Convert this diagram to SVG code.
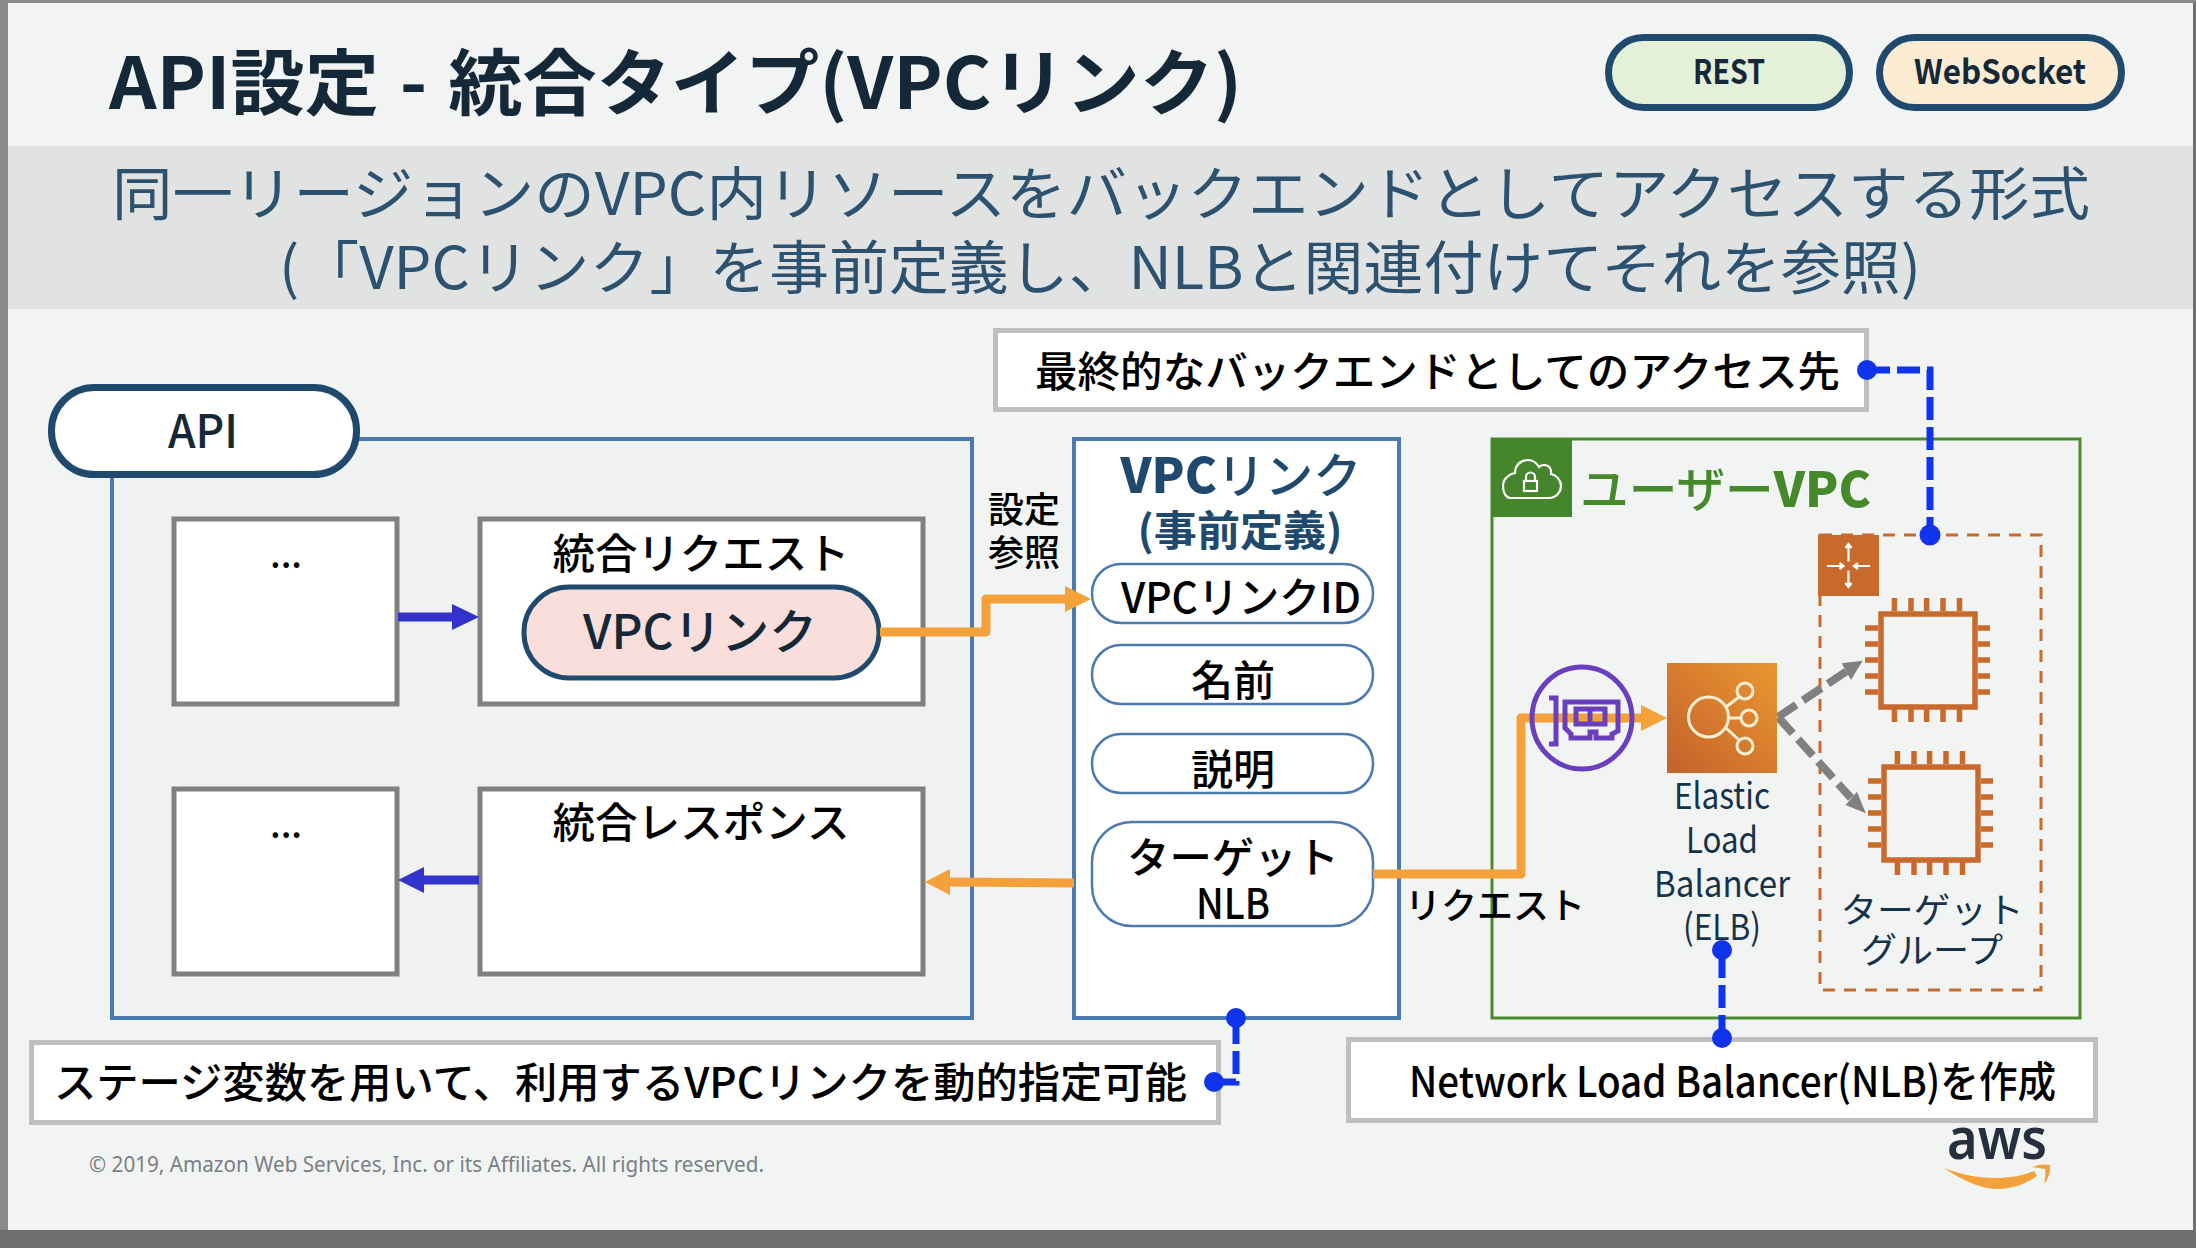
<svg xmlns="http://www.w3.org/2000/svg" width="2196" height="1248" viewBox="0 0 2196 1248">
<style>
text{font-family:"Noto Sans CJK JP","Noto Sans",sans-serif;fill:#000;font-weight:500;text-spacing-trim:space-all}
.m{text-anchor:middle}
.b{font-weight:700}
.sub{font-weight:400;fill:#2d5270}
.box{fill:#fff;stroke:#808080;stroke-width:5}
.note{fill:#fff;stroke:#bfbfbf;stroke-width:5}
.cont{stroke:#4a7ab0;stroke-width:4}
.pill{fill:#fff;stroke:#4a7ab0;stroke-width:2.5}
.dk{stroke:#1f4a6e;stroke-width:7}
.or{fill:none;stroke:#f4a13a;stroke-width:9;stroke-linejoin:round}
.orh{fill:#f4a13a}
.bl{fill:none;stroke:#3333cc;stroke-width:9}
.blh{fill:#3333cc}
.call{fill:none;stroke:#1033ee;stroke-width:7;stroke-dasharray:23 7}
.dot{fill:#1033ee}
.gr{fill:none;stroke:#808080;stroke-width:8;stroke-dasharray:22 8}
.grh{fill:#808080}
.chip{fill:none;stroke:#c96a2d;stroke-width:5.5}
.ic{fill:none;stroke:#fff;stroke-width:2.2}
.elb{fill:none;stroke:#fbeed2;stroke-width:3}
.nic{fill:none;stroke:#6a3fbe;stroke-width:5}
</style>
<defs>
<linearGradient id="elbg" x1="0" y1="1" x2="1" y2="0"><stop offset="0" stop-color="#c3622b"/><stop offset="1" stop-color="#ea9631"/></linearGradient>
<g id="chip">
<rect class="chip" x="1881" y="614" width="94" height="93"/>
<path class="chip" d="M1894.4 598V611M1911 598V611M1926.6 598V611M1943 598V611M1959.5 598V611M1894.4 709V722M1911 709V722M1926.6 709V722M1943 709V722M1959.5 709V722M1865 628H1878M1865 644H1878M1865 660H1878M1865 676H1878M1865 692H1878M1978 628H1990M1978 644H1990M1978 660H1990M1978 676H1990M1978 692H1990"/>
</g>
</defs>
<rect width="2196" height="1248" fill="#6f6f6f"/>
<rect x="0" y="0" width="2196" height="3" fill="#8a8a8a"/>
<rect x="0" y="0" width="8" height="1230" fill="#8a8a8a"/>
<rect x="8" y="3" width="2185" height="1227" fill="#f2f4f4"/>
<rect x="8" y="146" width="2185" height="163" fill="#e1e3e3"/>

<g id="header">
<text class="b" x="109" y="109" font-size="72" textLength="1133" lengthAdjust="spacingAndGlyphs" style="fill:#152838;word-spacing:4px">API設定 - 統合タイプ(VPCリンク)</text>
<text class="sub" x="112" y="215" font-size="58" textLength="1978" lengthAdjust="spacingAndGlyphs">同一リージョンのVPC内リソースをバックエンドとしてアクセスする形式</text>
<text class="sub" x="279" y="289" font-size="58" textLength="1642" lengthAdjust="spacingAndGlyphs">(「VPCリンク」を事前定義し、NLBと関連付けてそれを参照)</text>
</g>
<g id="badge-rest">
<rect class="dk" x="1608.5" y="37.5" width="241" height="70" rx="35" fill="#e4f0d8"/>
<text class="m b" x="1729" y="84" font-size="34" textLength="72" lengthAdjust="spacingAndGlyphs" style="fill:#152838">REST</text>
</g>
<g id="badge-websocket">
<rect class="dk" x="1879.5" y="37.5" width="242" height="70" rx="35" fill="#fcecd2"/>
<text class="m b" x="2000" y="84" font-size="34" textLength="172" lengthAdjust="spacingAndGlyphs" style="fill:#152838">WebSocket</text>
</g>

<g id="api">
<rect class="cont" x="112" y="439" width="860" height="579" fill="#f0f1f1"/>
<rect class="dk" x="51.5" y="387.5" width="305" height="87" rx="43" fill="#fff"/>
<text class="m" x="203" y="448" font-size="46" textLength="70" lengthAdjust="spacingAndGlyphs" style="fill:#152838">API</text>
</g>
<g id="method-request">
<rect class="box" x="174" y="519" width="223" height="185"/>
<text class="m" x="286" y="568" font-size="36">...</text>
</g>
<g id="integration-request">
<rect class="box" x="480" y="519" width="443" height="185"/>
<text class="m" x="701" y="569" font-size="42" textLength="297" lengthAdjust="spacingAndGlyphs">統合リクエスト</text>
<rect x="524" y="587" width="355" height="91" rx="45" fill="#f9dedc" stroke="#1f4a6e" stroke-width="5"/>
<text class="m" x="700" y="649" font-size="48" textLength="234" lengthAdjust="spacingAndGlyphs" style="fill:#152838">VPCリンク</text>
</g>
<g id="method-response">
<rect class="box" x="174" y="789" width="223" height="185"/>
<text class="m" x="286" y="838" font-size="36">...</text>
</g>
<g id="integration-response">
<rect class="box" x="480" y="789" width="443" height="185"/>
<text class="m" x="701" y="838" font-size="42" textLength="297" lengthAdjust="spacingAndGlyphs">統合レスポンス</text>
</g>

<g id="vpc-link">
<rect class="cont" x="1074" y="439" width="325" height="579" fill="#fff"/>
<text class="m" x="1241" y="493" font-size="48" textLength="241" lengthAdjust="spacingAndGlyphs" style="fill:#1f4a6e"><tspan style="fill:#1f4a6e;font-weight:900">VPC</tspan>リンク</text>
<text class="m b" x="1240" y="546" font-size="42" textLength="205" lengthAdjust="spacingAndGlyphs" style="fill:#1f4a6e">(事前定義)</text>
</g>
<g id="field-id">
<rect class="pill" x="1092" y="564" width="281" height="59" rx="29"/>
<text class="m" x="1241" y="613" font-size="42" textLength="240" lengthAdjust="spacingAndGlyphs">VPCリンクID</text>
</g>
<g id="field-name">
<rect class="pill" x="1092" y="645" width="281" height="59" rx="29"/>
<text class="m" x="1233" y="696" font-size="42">名前</text>
</g>
<g id="field-desc">
<rect class="pill" x="1092" y="734" width="281" height="59" rx="29"/>
<text class="m" x="1233" y="785" font-size="42">説明</text>
</g>
<g id="field-target">
<rect class="pill" x="1092" y="822" width="281" height="104" rx="40"/>
<text class="m" x="1233" y="873" font-size="42" textLength="212" lengthAdjust="spacingAndGlyphs">ターゲット</text>
<text class="m" x="1233" y="919" font-size="42" textLength="74" lengthAdjust="spacingAndGlyphs">NLB</text>
</g>

<g id="user-vpc">
<rect x="1492" y="439" width="588" height="579" fill="none" stroke="#4a8a2a" stroke-width="3"/>
<rect x="1491" y="438" width="81" height="79" fill="#45852b"/>
<path class="ic" d="M1511 498H1549C1556 498 1561 492 1561 486C1561 480 1556 475 1551 474C1552 469 1549 465 1544 465C1542 465 1540 466 1539 467C1536 462 1532 460 1528 460C1520 460 1515 466 1515 473C1509 474 1503 479 1503 486C1503 493 1506 498 1511 498Z"/>
<rect class="ic" x="1524" y="481" width="13" height="10"/>
<path class="ic" d="M1526 481V477A4.500 4.500 0 0 1 1535 477V481"/>
<text x="1580" y="507" font-size="48" textLength="291" lengthAdjust="spacingAndGlyphs" style="fill:#45892a">ユーザー<tspan style="fill:#45892a;font-weight:900">VPC</tspan></text>
</g>
<g id="target-group">
<rect x="1820" y="535" width="221" height="455" fill="none" stroke="#c96a2d" stroke-width="3" stroke-dasharray="12 9"/>
<rect x="1818" y="535" width="61" height="61" fill="#c96a2d"/>
<path class="ic" d="M1848.500 561.500V544M1845.500 548L1848.500 544L1851.500 548M1848.500 570.500V587M1845.500 583L1848.500 587L1851.500 583M1827 566H1843.500M1839.500 563L1843.500 566L1839.500 569M1870 566H1854M1858 563L1854 566L1858 569"/>
<text class="m" x="1932" y="923" font-size="35" textLength="183" lengthAdjust="spacingAndGlyphs" style="fill:#16324a;font-weight:400">ターゲット</text>
<text class="m" x="1932" y="963" font-size="35" textLength="142" lengthAdjust="spacingAndGlyphs" style="fill:#16324a;font-weight:400">グループ</text>
</g>
<g id="ec2-1"><use href="#chip"/></g>
<g id="ec2-2"><use href="#chip" x="3" y="153"/></g>

<g id="connectors">
<path class="bl" d="M398 617H455"/><polygon class="blh" points="452,604 479,617 452,630"/>
<path class="bl" d="M479 880H422"/><polygon class="blh" points="424,867 398,880 424,893"/>
<path class="or" d="M880 632H986V599H1067"/><polygon class="orh" points="1065,586 1091,599 1065,612"/>
<path class="or" d="M1074 883L948 882"/><polygon class="orh" points="950,869 925,882 950,895"/>
<path class="or" d="M1373 874H1521V718H1644"/><polygon class="orh" points="1641,705 1667,718 1641,731"/>
<path class="gr" d="M1778 717L1847 671"/><polygon class="grh" points="1841.600,663.300 1862.700,660.700 1851,680"/>
<path class="gr" d="M1778 717L1851 798"/><polygon class="grh" points="1845.500,805 1865.800,813.300 1857,791.700"/>
<path class="call" d="M1867 370H1930V535"/>
<path class="call" d="M1214 1082H1236V1018"/>
<path class="call" d="M1722 1038V950"/>
</g>

<g id="nic">
<ellipse class="nic" cx="1582" cy="718" rx="50" ry="51"/>
<path class="nic" d="M1549 698H1556V744H1549"/>
<path class="nic" d="M1565 702H1618V731L1612 734V738H1596V732H1590V738H1571V734L1565 728Z"/>
<rect class="nic" x="1576" y="709" width="29" height="15"/>
<path class="nic" d="M1590 709V724"/>
</g>
<g id="elb">
<rect x="1667" y="663" width="110" height="110" fill="url(#elbg)"/>
<circle class="elb" cx="1708.500" cy="717" r="20"/>
<circle class="elb" cx="1745" cy="691" r="8"/>
<circle class="elb" cx="1749" cy="718" r="8"/>
<circle class="elb" cx="1745" cy="746" r="8"/>
<path class="elb" d="M1726 707L1739 697M1728.500 718H1741M1726 728L1739 740"/>
<text class="m" x="1722" y="809" font-size="36" textLength="96" lengthAdjust="spacingAndGlyphs" style="fill:#16324a;font-weight:400">Elastic</text>
<text class="m" x="1722" y="853" font-size="36" textLength="72" lengthAdjust="spacingAndGlyphs" style="fill:#16324a;font-weight:400">Load</text>
<text class="m" x="1722" y="897" font-size="36" textLength="136" lengthAdjust="spacingAndGlyphs" style="fill:#16324a;font-weight:400">Balancer</text>
<text class="m" x="1722" y="940" font-size="36" textLength="78" lengthAdjust="spacingAndGlyphs" style="fill:#16324a;font-weight:400">(ELB)</text>
</g>

<g id="labels">
<text class="m" x="1024" y="523" font-size="36">設定</text>
<text class="m" x="1024" y="566" font-size="36">参照</text>
<text x="1405" y="919" font-size="36" textLength="180" lengthAdjust="spacingAndGlyphs">リクエスト</text>
</g>

<g id="note-backend">
<rect class="note" x="995.500" y="330.500" width="871" height="79"/>
<text x="1035" y="387" font-size="42" textLength="805" lengthAdjust="spacingAndGlyphs">最終的なバックエンドとしてのアクセス先</text>
</g>
<g id="note-stage">
<rect class="note" x="31.500" y="1042.500" width="1187" height="80"/>
<text x="54" y="1098" font-size="42" textLength="1133" lengthAdjust="spacingAndGlyphs">ステージ変数を用いて、利用するVPCリンクを動的指定可能</text>
</g>
<g id="note-nlb">
<rect class="note" x="1348.500" y="1039.500" width="747" height="81"/>
<text x="1409" y="1097" font-size="42" textLength="647" lengthAdjust="spacingAndGlyphs">Network Load Balancer(NLB)を作成</text>
</g>
<g id="dots">
<circle class="dot" cx="1867" cy="370" r="10"/>
<circle class="dot" cx="1930" cy="535" r="10.500"/>
<circle class="dot" cx="1214" cy="1082" r="10"/>
<circle class="dot" cx="1236" cy="1018" r="10"/>
<circle class="dot" cx="1722" cy="1038" r="10"/>
<circle class="dot" cx="1722" cy="950" r="10"/>
</g>

<g id="footer">
<text x="89" y="1172" font-size="21" textLength="675" lengthAdjust="spacingAndGlyphs" style="fill:#7a7f85;font-family:'Noto Sans',sans-serif;font-weight:400">© 2019, Amazon Web Services, Inc. or its Affiliates. All rights reserved.</text>
</g>
<g id="aws-logo">
<text x="1947" y="1159" font-size="58" textLength="100" lengthAdjust="spacingAndGlyphs" style="fill:#252f3e;font-family:'Noto Sans',sans-serif;font-weight:600">aws</text>
<path fill="#f4a13a" d="M1944 1168C1965 1182 1982 1189 1998 1189C2012 1189 2026 1184 2037 1176L2034 1171C2022 1176 2008 1178 1996 1178C1980 1178 1962 1175 1944 1168Z"/>
<path fill="#f4a13a" d="M2032 1167C2039 1164 2046 1164 2050 1165C2051 1172 2048 1179 2044 1184C2045 1178 2046 1173 2045 1169C2041 1168 2037 1168 2032 1167Z"/>
</g>
</svg>
